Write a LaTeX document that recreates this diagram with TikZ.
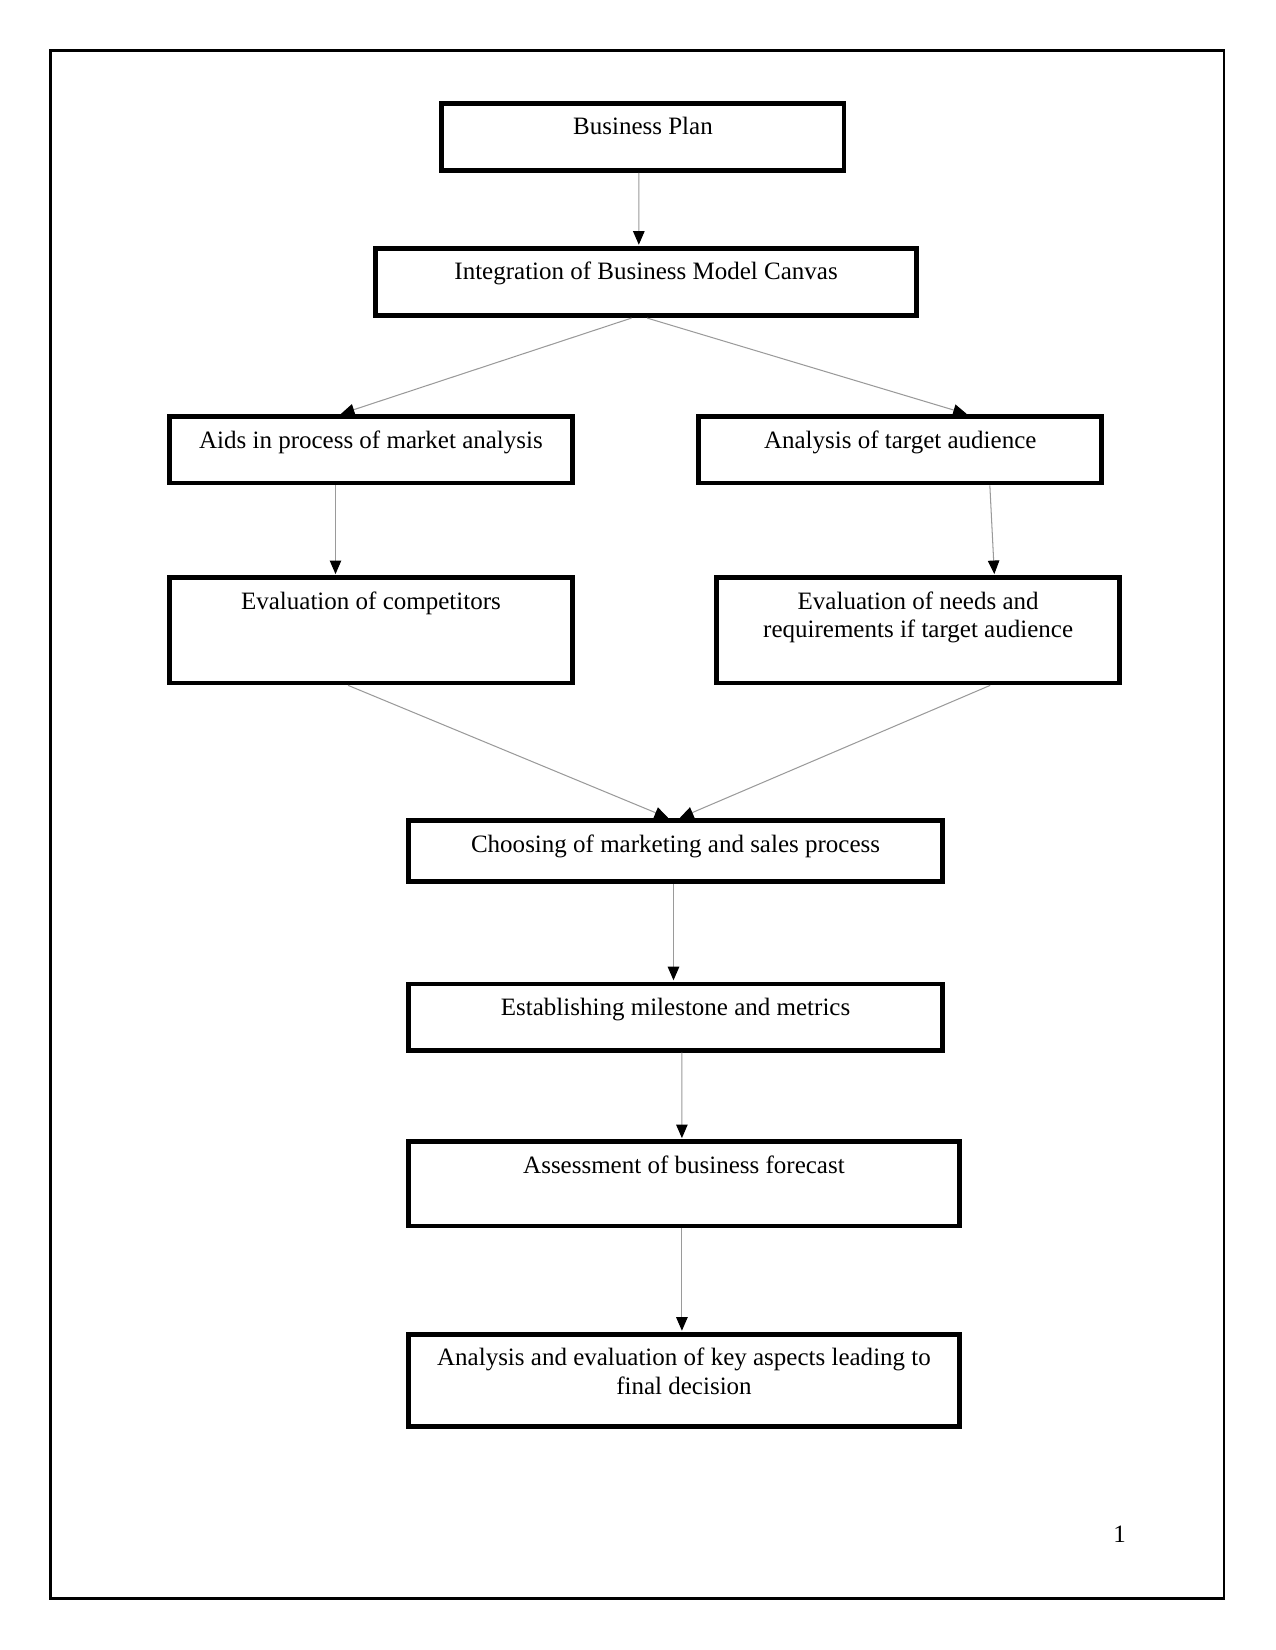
\documentclass[tikz,border=0pt]{standalone}
\usepackage{fontspec}
\setmainfont{Liberation Serif}
\usepackage{tikz}
\usetikzlibrary{calc, arrows.meta}
\definecolor{lineGray}{HTML}{9A9A9A}

\begin{document}
\begin{tikzpicture}[x=0.505pt, y=-0.505pt,
    font=\fontsize{12}{13.6}\selectfont,
    stepbox/.style={draw, line width=2.3pt, rectangle, inner sep=0pt},
    boxtext/.style={anchor=north, yshift=-7.6pt, inner sep=0pt, align=center},
    conn/.style={draw=lineGray, line width=0.5pt, -{Triangle[length=6.5pt, width=5.5pt, black]}, shorten >=0.6pt}]
    \useasboundingbox (0,0) rectangle (1212,1568);
    \draw[line width=1pt] (48,48) rectangle (1163,1519);
    % boxes
    \node[stepbox, minimum width=193pt, minimum height=32.3pt,
        label={[boxtext]north:Business Plan}] (plan) at (611,130) {};
    \node[stepbox, minimum width=259.6pt, minimum height=32.3pt,
        label={[boxtext]north:Integration of Business Model Canvas}] (canvas) at (614,268) {};
    \node[stepbox, minimum width=193.4pt, minimum height=31.8pt,
        label={[boxtext]north:Aids in process of market analysis}] (market) at (352.5,427.5) {};
    \node[stepbox, minimum width=193.4pt, minimum height=31.8pt,
        label={[boxtext]north:Analysis of target audience}] (audience) at (855.5,427.5) {};
    \node[stepbox, minimum width=193.4pt, minimum height=50.5pt,
        label={[boxtext]north:Evaluation of competitors}] (rivals) at (352.5,599) {};
    \node[stepbox, minimum width=193.4pt, minimum height=50.5pt,
        label={[boxtext]north:Evaluation of needs and\\requirements if target audience}] (needs) at (872.5,599) {};
    \node[stepbox, minimum width=256.5pt, minimum height=29.3pt,
        label={[boxtext]north:Choosing of marketing and sales process}] (sales) at (642,809) {};
    \node[stepbox, minimum width=256.5pt, minimum height=31.8pt,
        label={[boxtext]north:Establishing milestone and metrics}] (metrics) at (642,966.5) {};
    \node[stepbox, minimum width=264.6pt, minimum height=40.4pt,
        label={[boxtext]north:Assessment of business forecast}] (forecast) at (650,1125) {};
    \node[stepbox, minimum width=264.6pt, minimum height=44.4pt,
        label={[boxtext]north:Analysis and evaluation of key aspects leading to\\final decision}] (decision) at (650,1312) {};
    \node (pagenum) at (1064,1458) {1};
    % connectors
    \draw[conn] ([xshift=-2pt]plan.south) -- ([xshift=-3.5pt]canvas.north);
    \draw[conn] ([xshift=-7pt]canvas.south) -- ([xshift=-15pt]market.north);
    \draw[conn] ([xshift=0.5pt]canvas.south) -- ([xshift=32.5pt]audience.north);
    \draw[conn] ([xshift=-17pt]market.south) -- ([xshift=-17pt]rivals.north);
    \draw[conn] ([xshift=43pt]audience.south) -- ([xshift=36.6pt]needs.north);
    \draw[conn] ([xshift=-11pt]rivals.south) -- ([xshift=-3pt]sales.north);
    \draw[conn] ([xshift=34.6pt]needs.south) -- ([xshift=1.5pt]sales.north);
    \draw[conn] ([xshift=-1pt]sales.south) -- ([xshift=-1pt]metrics.north);
    \draw[conn] ([xshift=3pt]metrics.south) -- ([xshift=-1pt]forecast.north);
    \draw[conn] ([xshift=-1pt]forecast.south) -- ([xshift=-1pt]decision.north);
\end{tikzpicture}
\end{document}
